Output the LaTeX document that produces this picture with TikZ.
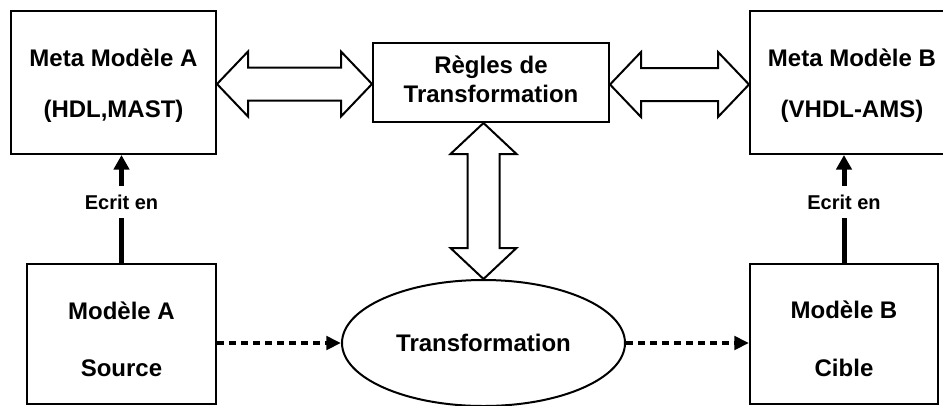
\documentclass[tikz,border=0pt]{standalone}
\usepackage{fontspec}
\setmainfont{Liberation Sans}
\usetikzlibrary{calc,arrows.meta,shapes.geometric}

\tikzset{
  box/.style={draw,line width=1.5pt,rectangle,inner sep=0pt},
  bigtext/.style={font=\fontsize{18}{22}\selectfont\bfseries,inner sep=0pt,anchor=base},
  smalltext/.style={font=\fontsize{15}{18}\selectfont\bfseries,fill=white,inner sep=0pt,minimum height=24pt},
  blockarrow/.style={draw,line width=1.5pt,fill=white,line join=miter},
  writtenin/.style={line width=3.75pt,-{Triangle[length=11pt,width=11.5pt]}},
  flow/.style={line width=3pt,dash pattern=on 5.25pt off 3.75pt,-{Triangle[length=11pt,width=10pt]}},
}

% horizontal hollow double arrow between two tips
\newcommand{\dblarrowH}[2]{%
  \draw[blockarrow] (#1) -- ($(#1)+(31,-32.5)$) -- ($(#1)+(31,-16.5)$)
    -- ($(#2)+(-31,-16.5)$) -- ($(#2)+(-31,-32.5)$) -- (#2)
    -- ($(#2)+(-31,32.5)$) -- ($(#2)+(-31,16.5)$)
    -- ($(#1)+(31,16.5)$) -- ($(#1)+(31,32.5)$) -- cycle;}
% vertical hollow double arrow between two tips (first one on top)
\newcommand{\dblarrowV}[2]{%
  \draw[blockarrow] (#1) -- ($(#1)+(-33,31)$) -- ($(#1)+(-16,31)$)
    -- ($(#2)+(-16,-31)$) -- ($(#2)+(-33,-31)$) -- (#2)
    -- ($(#2)+(33,-31)$) -- ($(#2)+(16,-31)$)
    -- ($(#1)+(16,31)$) -- ($(#1)+(33,31)$) -- cycle;}

\begin{document}
\begin{tikzpicture}[x=0.75pt,y=-0.75pt]
  \useasboundingbox (0,0) rectangle (943,405);
  \clip (0,0) rectangle (943,405);
  \fill[white] (0,0) rectangle (943,405);

  % boxes
  \node[box,minimum width=153.75pt,minimum height=107.25pt] (metaA) at (113.5,82.5) {};
  \node[box,minimum width=177pt,minimum height=59.25pt] (regles) at (491,82.5) {};
  \node[box,minimum width=153pt,minimum height=107.25pt] (metaB) at (852,82.5) {};
  \node[box,minimum width=141.75pt,minimum height=105pt] (modA) at (121.5,334) {};
  \node[box,minimum width=141pt,minimum height=105pt] (modB) at (844,334) {};
  \node[draw,ellipse,line width=1.5pt,minimum width=212.25pt,minimum height=94.5pt,inner sep=0pt] (trans) at (483.5,343) {};

  % labels
  \node[bigtext] (metaAa) at (113.5,66) {Meta Modèle A};
  \node[bigtext] (metaAb) at (113.5,117) {(HDL,MAST)};
  \node[bigtext] (reglesa) at (491,73) {Règles de};
  \node[bigtext] (reglesb) at (491,102) {Transformation};
  \node[bigtext] (metaBa) at (852,66) {Meta Modèle B};
  \node[bigtext] (metaBb) at (852,117) {(VHDL-AMS)};
  \node[bigtext] (modAa) at (121.5,319) {Modèle A};
  \node[bigtext] (modAb) at (121.5,376.5) {Source};
  \node[bigtext] (modBa) at (844,318.5) {Modèle B};
  \node[bigtext] (modBb) at (844,376.5) {Cible};
  \node[bigtext] (transa) at (483.5,351) {Transformation};

  % hollow double arrows
  \coordinate (pA) at ($(metaA.east)+(0,1.5)$);
  \coordinate (qA) at ($(regles.west)+(0,1.5)$);
  \coordinate (pB) at ($(regles.east)+(0,2)$);
  \coordinate (qB) at ($(metaB.west)+(0,2)$);
  \coordinate (vtop) at (trans.north |- regles.south);
  \dblarrowH{pA}{qA}
  \dblarrowH{pB}{qB}
  \dblarrowV{vtop}{trans.north}

  % "written in" links
  \node[smalltext] (ecA) at (121.5,202) {Ecrit en};
  \node[smalltext] (ecB) at (844,202) {Ecrit en};
  \draw[line width=3.75pt] (modA.north) -- (ecA.south);
  \draw[writtenin] (ecA.north) -- (ecA.north |- metaA.south);
  \draw[line width=3.75pt] (modB.north) -- (ecB.south);
  \draw[writtenin] (ecB.north) -- (ecB.north |- metaB.south);

  % transformation flow
  \draw[flow] (modA.east |- trans.west) -- (trans.west);
  \draw[flow] (trans.east) -- (modB.west |- trans.east);
\end{tikzpicture}
\end{document}
